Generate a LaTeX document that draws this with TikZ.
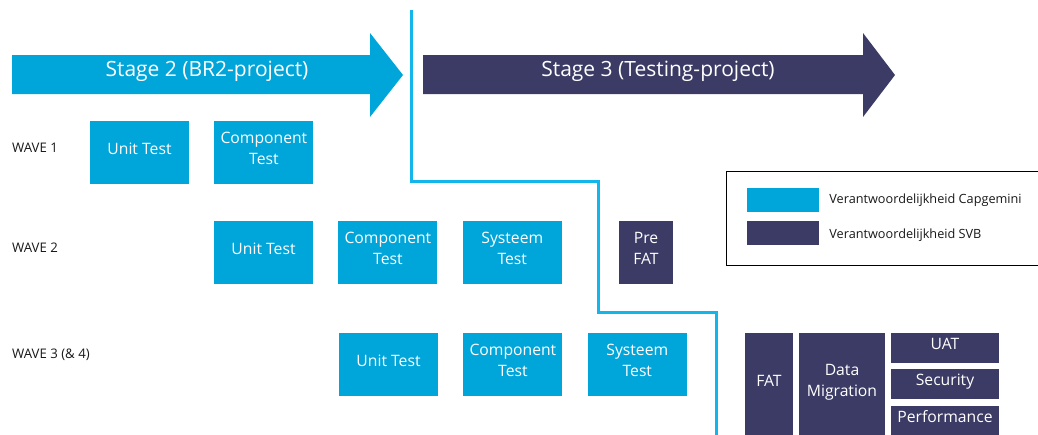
\documentclass[tikz,border=0pt]{standalone}
\usepackage{fontspec}
\setmainfont{Open Sans}
\usetikzlibrary{positioning}
\definecolor{capblue}{RGB}{0,165,217}
\definecolor{lineblue}{RGB}{18,182,234}
\definecolor{svbnavy}{RGB}{59,59,102}

\begin{document}
\begin{tikzpicture}[x=1pt,y=-1pt,
					node distance=25pt,
					every node/.style={inner sep=0pt},
					testbox/.style={fill=capblue, text=white, minimum width=99pt, minimum height=63pt, align=center,
						text height=11.2pt, text depth=8pt, font=\fontsize{15.7}{20.5}\selectfont},
					twoline/.style={text height=31.7pt},
					svbbox/.style={testbox, fill=svbnavy},
					wavelabel/.style={anchor=west, text=black!90, font=\fontsize{13.2}{15}\selectfont},
					legendtext/.style={anchor=west, text=black!90, font=\fontsize{12.7}{15}\selectfont},
					stagetitle/.style={text=white, font=\fontsize{21}{25}\selectfont},
					divider/.style={lineblue, line width=3pt}]
				\useasboundingbox (0,0) rectangle (1038,434);
				% stages
				\fill[capblue] (12,55) -- (370,55) -- (370,33) -- (403,75) -- (370,117) -- (370,94) -- (12,94) -- cycle;
				\fill[svbnavy] (423,55) -- (863,55) -- (863,33) -- (895,75) -- (863,117) -- (863,94) -- (423,94) -- cycle;
				\node[stagetitle] (stage2) at (207,71.5) {Stage 2 (BR2-project)};
				\node[stagetitle] (stage3) at (658,71.5) {Stage 3 (Testing-project)};
				% border between the stages
				\coordinate (top) at (411,10);
				\coordinate (bottom) at (716,436);
				\draw[divider] (top) |- (598,181) |- (716,312) -- (bottom);
				% waves
				\node[wavelabel] (wave1) at (12,148) {WAVE 1};
				\node[wavelabel] (wave2) at (12,248) {WAVE 2};
				\node[wavelabel] (wave3) at (12,355) {WAVE 3 (\& 4)};
				\node[testbox] (unit1) at (139.5,152.5) {Unit Test};
				\node[testbox, twoline, right=of unit1] (comp1) {Component\\Test};
				\node[testbox] (unit2) at (263.5,252.5) {Unit Test};
				\node[testbox, twoline, right=of unit2] (comp2) {Component\\Test};
				\node[testbox, twoline, right=of comp2] (sys2) {Systeem\\Test};
				\node[svbbox, twoline, minimum width=54pt] (prefat) at (646,252.5) {Pre\\FAT};
				\node[testbox] (unit3) at (388.5,364.5) {Unit Test};
				\node[testbox, twoline, right=of unit3] (comp3) {Component\\Test};
				\node[testbox, twoline, right=of comp3] (sys3) {Systeem\\Test};
				\node[svbbox, minimum width=48pt, minimum height=103pt] (fat) at (769,384.5) {FAT};
				\node[svbbox, twoline, minimum width=86pt, minimum height=103pt] (datamig) at (842,384.5) {Data\\Migration};
				\node[svbbox, minimum width=108pt, minimum height=30pt] (uat) at (945,348) {UAT};
				\node[svbbox, minimum width=108pt, minimum height=30pt] (security) at (945,384) {Security};
				\node[svbbox, minimum width=108pt, minimum height=30pt] (perf) at (945,421) {Performance};
				% legend
				\node[draw, line width=1pt, minimum width=314pt, minimum height=94pt, anchor=north west] (legend) at (726,171) {};
				\node[fill=capblue, minimum width=72pt, minimum height=24pt] (keycap) at (783,200) {};
				\node[fill=svbnavy, minimum width=72pt, minimum height=24pt] (keysvb) at (783,233) {};
				\node[legendtext, right=10pt of keycap] (keycaptext) {Verantwoordelijkheid Capgemini};
				\node[legendtext, right=10pt of keysvb, yshift=-2.5pt] (keysvbtext) {Verantwoordelijkheid SVB};
			\end{tikzpicture}
\end{document}
